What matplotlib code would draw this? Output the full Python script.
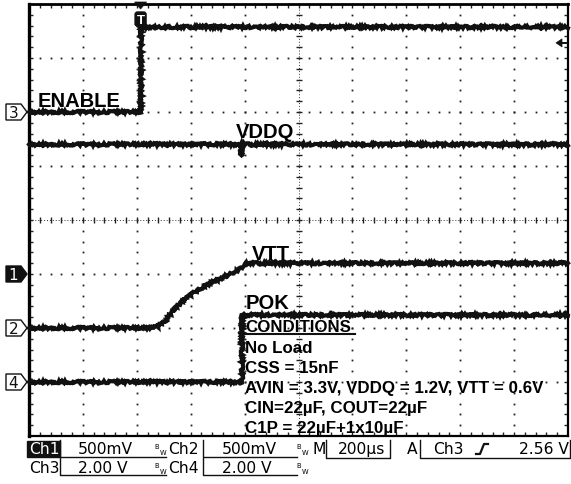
import numpy as np
import matplotlib
matplotlib.use("Agg")
import matplotlib.pyplot as plt
from matplotlib.patches import Polygon, Rectangle, FancyBboxPatch

W, H, DPI = 571, 485, 100

# Horizontal setup: 200 us/div, 10 divisions, trigger point 2.07 div from the left
TIME_PER_DIV = 200.0
T_LEFT = -414.0
N_XDIV, N_YDIV = 10, 8

# Vertical setup per channel: volts/div and ground marker position (div from centre)
ch_scale = {1: 0.5, 2: 0.5, 3: 2.0, 4: 2.0}
ch_offset = {1: -1.0, 2: -2.0, 3: 2.0, 4: -3.0}
trigger_level = 2.56  # V on Ch3

# Captured waveforms: time in us, level in V
enable_t = [-414, 0, 0, 1586]
enable_v = [0.0, 0.0, 3.15, 3.15]

vddq_t = [-414, 371, 374, 376, 379, 1586]
vddq_v = [1.2, 1.2, 1.09, 1.22, 1.2, 1.2]

vtt_t = [-414, 40, 60, 90, 130, 170, 212, 255, 297, 330, 353, 372, 385, 1586]
vtt_v = [0.0, 0.0, 0.01, 0.06, 0.19, 0.28, 0.35, 0.41, 0.46, 0.50, 0.53, 0.55, 0.60, 0.60]

pok_t = [-414, 378, 378, 1586]
pok_v = [0.0, 0.0, 2.5, 2.5]

labels = ["ENABLE", "VDDQ", "VTT", "POK"]
conditions = [
    "No Load",
    "CSS = 15nF",
    "AVIN = 3.3V, VDDQ = 1.2V, VTT = 0.6V",
    "CIN=22\u00b5F, COUT=22\u00b5F",
    "C1P = 22\u00b5F+1x10\u00b5F",
]

INK = "#111111"
BOLD = dict(family="Liberation Sans", weight="bold")
MONO = dict(family="DejaVu Sans")

fig = plt.figure(figsize=(W / DPI, H / DPI), dpi=DPI)
fig.patch.set_facecolor("white")

L, R, T, B = 29, 568, 5, 437
rect = [L / W, 1 - B / H, (R - L) / W, (B - T) / H]

# ---------------- graticule ----------------
ax = fig.add_axes(rect, label="graticule")
t_right = T_LEFT + N_XDIV * TIME_PER_DIV
ax.set_xlim(T_LEFT, t_right)
ax.set_ylim(-N_YDIV / 2, N_YDIV / 2)

sub_y = np.arange(1, 5 * N_YDIV) * 0.2 - N_YDIV / 2
sub_x = T_LEFT + np.arange(1, 5 * N_XDIV) * 0.2 * TIME_PER_DIV
x_center = T_LEFT + N_XDIV / 2 * TIME_PER_DIV

for k in range(1, N_XDIV):
    xv = T_LEFT + k * TIME_PER_DIV
    if k == N_XDIV // 2:
        continue
    ax.plot(np.full_like(sub_y, xv), sub_y, ls="none", marker="s", ms=1.3,
            mew=0, color="#222222", zorder=1)
for k in range(-N_YDIV // 2 + 1, N_YDIV // 2):
    if k == 0:
        continue
    ax.plot(sub_x, np.full_like(sub_x, k), ls="none", marker="s", ms=1.3,
            mew=0, color="#222222", zorder=1)

# centre cross with sub-division ticks
ax.plot([x_center, x_center], [-4, 4], ls=(0, (1, 2)), lw=0.7, color="#333333")
ax.plot([T_LEFT, t_right], [0, 0], ls=(0, (1, 2)), lw=0.7, color="#333333")
ax.plot(np.full_like(sub_y, x_center), sub_y, ls="none", marker="_", ms=5,
        mew=1.0, color="#222222")
ax.plot(sub_x, np.zeros_like(sub_x), ls="none", marker="|", ms=5,
        mew=1.0, color="#222222")

ax.set_xticks(sub_x)
ax.set_yticks(sub_y)
ax.tick_params(which="both", direction="in", top=True, right=True, bottom=True,
               left=True, length=3, width=1, color="#222222",
               labelbottom=False, labelleft=False)
for side, lw in [("left", 2.4), ("top", 2.0), ("right", 1.6), ("bottom", 1.6)]:
    ax.spines[side].set_linewidth(lw)
    ax.spines[side].set_color("black")

# ---------------- channel traces ----------------
def channel_axes(ch):
    a = fig.add_axes(rect, sharex=ax, label=f"ch{ch}")
    lo = (-N_YDIV / 2 - ch_offset[ch]) * ch_scale[ch]
    hi = (N_YDIV / 2 - ch_offset[ch]) * ch_scale[ch]
    a.set_ylim(lo, hi)
    a.axis("off")
    return a

ch_ax = {ch: channel_axes(ch) for ch in (1, 2, 3, 4)}

traces = [(3, enable_t, enable_v), (1, vddq_t, vddq_v),
          (2, vtt_t, vtt_v), (4, pok_t, pok_v)]
for ch, tt, vv in traces:
    ln, = ch_ax[ch].plot(tt, vv, color=INK, lw=2.9, solid_joinstyle="miter",
                         clip_on=False)
    ln.set_sketch_params(scale=1.2, length=1.6, randomness=4.0)

# ---------------- overlay in pixel units ----------------
ov = fig.add_axes([0, 0, 1, 1], label="overlay")
ov.set_xlim(0, W)
ov.set_ylim(H, 0)
ov.axis("off")
ov.set_zorder(10)

def to_px(axes, x, y):
    disp = axes.transData.transform((x, y))
    return ov.transData.inverted().transform(disp)

# channel ground markers on the left edge
for ch in (3, 1, 2, 4):
    _, yp = to_px(ch_ax[ch], 0, 0)
    verts = [(6, yp - 8), (21, yp - 8), (27, yp), (21, yp + 8), (6, yp + 8)]
    filled = ch == 1
    ov.add_patch(Polygon(verts, closed=True, facecolor=INK if filled else "white",
                         edgecolor=INK, lw=1.0))
    ov.text(13.5, yp + 0.5, str(ch), ha="center", va="center", fontsize=11,
            color="white" if filled else INK, **MONO)

# trigger position marker
tx, _ = to_px(ax, 0, 0)
ov.add_patch(Polygon([(tx - 6, 3), (tx + 6, 3), (tx, 10)], closed=True,
                     facecolor=INK, edgecolor=INK, lw=0.5))
ov.add_patch(FancyBboxPatch((tx - 5.5, 13), 11, 14,
                            boxstyle="round,pad=0,rounding_size=2.5",
                            facecolor=INK, edgecolor=INK))
ov.text(tx, 20.5, "T", ha="center", va="center", color="white", fontsize=9.5,
        **BOLD)

# trigger level arrow on the right edge
_, ty = to_px(ch_ax[3], 0, trigger_level)
ov.add_patch(Polygon([(556, ty), (562, ty - 4), (562, ty + 4)], closed=True,
                     facecolor=INK, edgecolor=INK, lw=0.5))
ov.plot([561, 567], [ty, ty], color=INK, lw=1.4)

# waveform names
name_pos = {"ENABLE": (38, 107), "VDDQ": (236, 138), "VTT": (252, 260),
            "POK": (246, 309)}
for name in labels:
    x, y = name_pos[name]
    ov.text(x, y, name, ha="left", va="baseline", fontsize=14.5, **BOLD)

# test conditions block
ov.text(245, 332, "CONDITIONS", ha="left", va="baseline", fontsize=12.2, **BOLD)
ov.plot([245, 355], [335, 335], color=INK, lw=1.5)
for i, line in enumerate(conditions):
    ov.text(245, 353 + 20 * i, line, ha="left", va="baseline", fontsize=12.2,
            **BOLD)

# ---------------- status readout ----------------
R1, R2 = 450, 469
FS = 11.2

def bw(x, y):
    ov.text(x, y, r"$\mathregular{{}^{B}{}_{W}}$", fontsize=7, ha="left",
            va="center", **MONO)

def box_lines(x0, x1, y0, y1):
    ov.plot([x0, x0, x1], [y0, y1, y1], color=INK, lw=1.0)

ov.add_patch(Rectangle((27, 442), 33, 16, facecolor=INK, edgecolor=INK))
ov.text(29, R1, "Ch1", color="white", fontsize=FS, ha="left", va="center", **MONO)
box_lines(60, 166, 441, 458)
ov.text(78, R1, "500mV", fontsize=FS, ha="left", va="center", **MONO)
bw(154, R1)
ov.text(168, R1, "Ch2", fontsize=FS, ha="left", va="center", **MONO)
box_lines(203, 297, 441, 458)
ov.text(222, R1, "500mV", fontsize=FS, ha="left", va="center", **MONO)
bw(296, R1)
ov.text(312, R1, "M", fontsize=FS, ha="left", va="center", **MONO)
ov.plot([326, 326, 390, 390], [441, 459, 459, 441], color=INK, lw=1.0)
ov.text(338, R1, "200\u00b5s", fontsize=FS, ha="left", va="center", **MONO)
ov.text(407, R1, "A", fontsize=FS, ha="left", va="center", **MONO)
ov.plot([420, 420, 570, 570], [441, 459, 459, 441], color=INK, lw=1.0)
ov.text(433, R1, "Ch3", fontsize=FS, ha="left", va="center", **MONO)
ov.plot([476, 480, 484, 488], [455, 455, 445, 445], color=INK, lw=1.6)
ov.text(569, R1, "2.56 V", fontsize=FS, ha="right", va="center", **MONO)

ov.text(29, R2, "Ch3", fontsize=FS, ha="left", va="center", **MONO)
box_lines(60, 166, 459, 476)
ov.text(78, R2, "2.00 V", fontsize=FS, ha="left", va="center", **MONO)
bw(154, R2)
ov.text(168, R2, "Ch4", fontsize=FS, ha="left", va="center", **MONO)
box_lines(203, 297, 459, 476)
ov.text(222, R2, "2.00 V", fontsize=FS, ha="left", va="center", **MONO)
bw(296, R2)

fig.savefig("out.png", dpi=DPI, facecolor="white")
